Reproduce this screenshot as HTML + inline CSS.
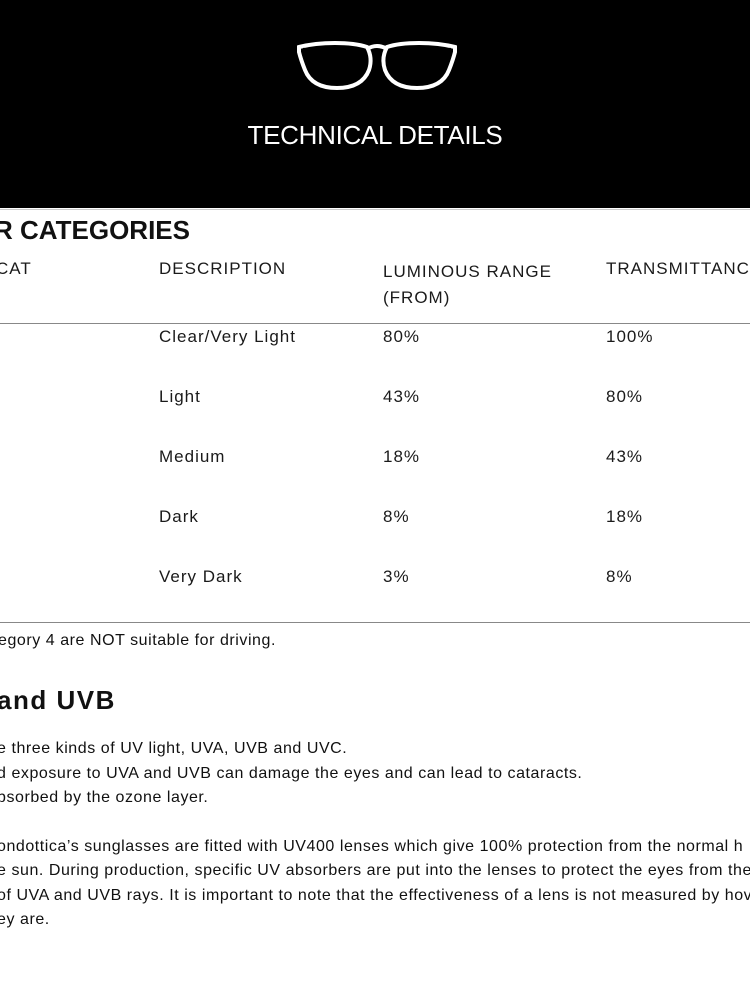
<!DOCTYPE html>
<html><head><meta charset="utf-8"><style>
html,body{margin:0;padding:0;width:750px;height:1000px;overflow:hidden;background:#fff;font-family:"Liberation Sans",sans-serif;color:#111}
.hdr{position:absolute;left:0;top:0;width:750px;height:208px;background:#000}
.gl{position:absolute;top:209px;left:0;width:750px;height:1px;background:#ccc}
.t{position:absolute;white-space:nowrap}
.h1{position:absolute;top:120px;left:0;width:750px;text-align:center;color:#fff;font-size:26px;letter-spacing:-0.3px}
.b{font-weight:bold;font-size:26px}
.s{font-size:17px;color:#1a1a1a;letter-spacing:1px}
.p{font-size:16px;letter-spacing:0.55px}
.line{position:absolute;left:0;width:750px;height:1px;background:#888}
</style></head><body>
<div class="hdr">
<svg style="position:absolute;left:295px;top:38px" width="164" height="54" viewBox="0 0 164 54">
<g fill="none" stroke="#fff" stroke-width="4">
<path d="M4 9 Q20 5 40 5 Q60 5 72 9 Q78 20 74 32 Q67 50 42 50 Q17 50 10 32 Q6 22 4 14 Z"/>
<path d="M160 9 Q144 5 124 5 Q104 5 92 9 Q86 20 90 32 Q97 50 122 50 Q147 50 154 32 Q158 22 160 14 Z"/>
<path d="M72 11 Q82 5 92 11"/>
</g>
<circle cx="9" cy="11" r="1.2" fill="#000"/><circle cx="13" cy="11" r="1.2" fill="#000"/>
<circle cx="151" cy="11" r="1.2" fill="#000"/><circle cx="155" cy="11" r="1.2" fill="#000"/>
</svg>
<div class="h1">TECHNICAL DETAILS</div>
</div>
<div class="gl"></div>
<div class="t b" style="left:-6px;top:215px">R CATEGORIES</div>
<div class="t s" style="left:-4px;top:259px">CAT</div>
<div class="t s" style="left:159px;top:259px">DESCRIPTION</div>
<div class="t s" style="left:383px;top:259px;line-height:26px">LUMINOUS RANGE<br>(FROM)</div>
<div class="t s" style="left:606px;top:259px">TRANSMITTANCE</div>
<div class="line" style="top:323px"></div>
<div class="t s" style="left:159px;top:327px">Clear/Very Light</div><div class="t s" style="left:383px;top:327px">80%</div><div class="t s" style="left:606px;top:327px">100%</div>
<div class="t s" style="left:159px;top:387px">Light</div><div class="t s" style="left:383px;top:387px">43%</div><div class="t s" style="left:606px;top:387px">80%</div>
<div class="t s" style="left:159px;top:447px">Medium</div><div class="t s" style="left:383px;top:447px">18%</div><div class="t s" style="left:606px;top:447px">43%</div>
<div class="t s" style="left:159px;top:507px">Dark</div><div class="t s" style="left:383px;top:507px">8%</div><div class="t s" style="left:606px;top:507px">18%</div>
<div class="t s" style="left:159px;top:567px">Very Dark</div><div class="t s" style="left:383px;top:567px">3%</div><div class="t s" style="left:606px;top:567px">8%</div>
<div class="line" style="top:622px"></div>
<div class="t p" style="left:-2px;top:632px">egory 4 are NOT suitable for driving.</div>
<div class="t b" style="left:-3px;top:685px;letter-spacing:1.5px">and UVB</div>
<div class="t p" style="left:-3px;top:737px;line-height:24.5px">e three kinds of UV light, UVA, UVB and UVC.<br>d exposure to UVA and UVB can damage the eyes and can lead to cataracts.<br>bsorbed by the ozone layer.</div>
<div class="t p" style="left:-3px;top:835px;line-height:24.3px">ondottica’s sunglasses are fitted with UV400 lenses which give 100% protection from the normal h<br>e sun. During production, specific UV absorbers are put into the lenses to protect the eyes from the<br>of UVA and UVB rays. It is important to note that the effectiveness of a lens is not measured by hov<br>ey are.</div>
</body></html>
